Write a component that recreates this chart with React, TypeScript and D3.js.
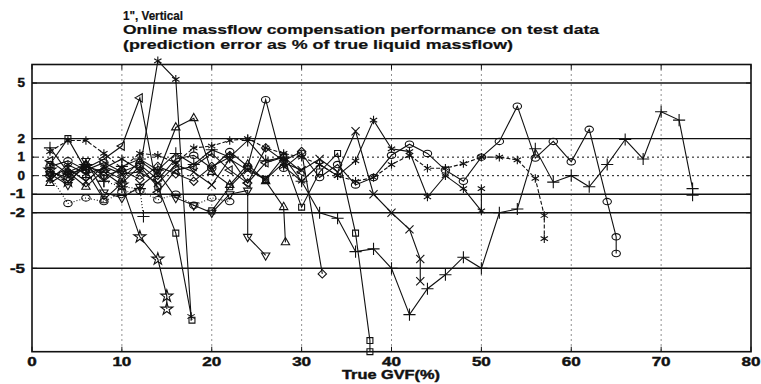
import * as d3 from "d3";

const gvfTicks = [0, 10, 20, 30, 40, 50, 60, 70, 80];
const errTicks = [5, 2, 1, 0, -1, -2, -5];
const solidRefs = [5, 2, -1, -2, -5];
const dottedRefs = [1, 0];

const titleLines = [
  '1", Vertical',
  "Online massflow compensation performance on test data",
  "(prediction error as % of true liquid massflow)",
];
// the scan is stretched sideways, so the title is fitted to its width
const titleWidths = [60, 476, 390];

// one pair of arrays per test series
const circleGvf = [2, 4, 6, 8, 10, 12, 14, 16, 18, 20, 22, 24, 26, 28, 30, 32, 34, 36, 38, 40, 42, 44, 46, 48, 50, 52, 54, 56, 58, 60, 62, 64, 65, 65];
const circleErr = [0.5, 0.8, 0.3, 0.7, 0.2, 0.6, -0.2, 0.9, 1.1, 0.4, 1.3, 0.5, 4.1, 0.4, 1.2, -0.1, 0.6, -0.5, -0.1, 1.1, 1.7, 1.2, 0.3, -0.3, 1.0, 1.85, 3.75, 0.95, 1.85, 0.75, 2.5, -1.4, -3.3, -4.2];

const plusGvf = [2, 4, 6, 8, 10, 12, 14, 16, 18, 20, 22, 24, 26, 28, 30, 32, 34, 36, 38, 40, 42, 44, 46, 48, 50, 52, 54, 56, 58, 60, 62, 64, 66, 68, 70, 72, 73.5, 73.5];
const plusErr = [1.5, 0.2, 0.6, -0.3, 0.5, 0.9, 0.3, 1.2, 0.6, 1.4, 1.0, 1.9, 0.8, 1.0, -0.3, -2.0, -2.3, -4.1, -3.95, -5.0, -7.5, -6.1, -5.35, -4.4, -5.0, -2.0, -1.8, 1.45, -0.35, 0.0, -0.6, 0.6, 1.95, 0.9, 3.45, 3.0, -0.7, -1.05];

const astDashGvf = [2, 4, 6, 8, 10, 12, 14, 16, 18, 20, 22, 24, 26, 28, 30, 32, 34, 36, 38, 40, 42, 44, 46, 48, 50, 52, 54, 56, 57, 57];
const astDashErr = [1.3, 1.9, 1.9, 1.2, 0.4, 1.2, 1.1, 0.7, 1.5, 1.6, 1.9, 2.0, 1.5, 1.2, 1.0, 0.6, 0.0, -0.3, -0.1, 0.6, 1.1, 0.4, 0.4, 0.65, 1.0, 1.0, 0.85, -0.15, -2.15, -3.4];

const pentaGvf = [2, 4, 6, 8, 10, 12, 14, 15, 15];
const pentaErr = [0.3, -0.3, 0.5, 0.2, -0.5, -3.3, -4.5, -6.5, -7.2];

const astPeakGvf = [2, 4, 6, 8, 10, 12, 14, 16, 17.7];
const astPeakErr = [-0.2, 0.6, 0.1, 0.4, 0.9, 0.3, 6.2, 5.2, -7.6];

const squareGvf = [2, 4, 6, 8, 10, 12, 14, 16, 17.8];
const squareErr = [0.6, 2.0, 0.3, -1.3, -0.4, 0.5, -0.6, -3.1, -7.8];

const triLeftGvf = [2, 4, 6, 8, 10, 12, 14, 16, 18, 20, 22, 24, 26, 28, 30];
const triLeftErr = [0.8, 0.1, 0.4, 0.9, 1.6, 4.2, -0.9, 0.3, 0.5, 1.2, 0.3, -0.4, 0.7, 1.0, 0.2];

const triDownGvf = [2, 4, 6, 8, 10, 12, 14, 16, 18, 20, 22, 24, 24, 26];
const triDownErr = [0.1, -0.5, 0.8, -0.9, -1.2, -0.6, 0.2, -1.2, -1.6, -2.0, -1.0, -0.8, -3.3, -4.3];

const triUpGvf = [2, 4, 6, 8, 10, 12, 14, 16, 18, 20, 22, 24, 26, 28, 28.2];
const triUpErr = [-0.4, 0.2, -0.6, 0.3, -0.2, 0.8, 0.1, 2.6, 3.1, 0.2, -0.5, 0.6, -0.3, -1.7, -3.6];

const diamondGvf = [2, 4, 6, 8, 10, 12, 14, 16, 18, 20, 22, 24, 26, 28, 30, 32.3];
const diamondErr = [0.2, -0.1, 0.6, 0.0, 0.3, -0.2, 0.5, 0.1, -0.3, 0.5, 1.0, -0.4, 1.5, 0.8, 1.3, -5.3];

const crossGvf = [2, 4, 6, 8, 10, 12, 14, 16, 18, 20, 22, 24, 26, 28, 30, 32, 34, 36, 38, 40, 42, 43.2, 43.2];
const crossErr = [-0.1, 0.4, -0.3, 0.5, 0.1, 0.2, -0.4, 0.6, 0.2, -0.5, 0.9, 0.3, -0.2, 0.7, 0.3, 0.9, 0.2, 2.4, -1.0, -2.0, -2.9, -4.5, -5.7];

const square2Gvf = [20, 22, 24, 26, 28, 30, 32, 34, 36, 37.6, 37.6];
const square2Err = [-1.9, -0.6, 0.4, -0.2, 1.0, -1.7, 0.2, 1.2, -3.1, -8.9, -9.5];

const ast2Gvf = [28, 30, 32, 34, 36, 38, 40, 42, 44, 46, 48, 50, 50];
const ast2Err = [0.5, -0.3, 0.6, 0.0, 0.8, 3.0, 1.45, 1.3, -1.15, 0.0, -0.7, -1.9, -0.7];

const circleDotGvf = [2, 4, 6, 8, 10, 12, 14, 16, 18, 20, 22];
const circleDotErr = [0.0, -1.5, -1.2, -1.4, -0.9, -0.8, -1.3, -1.0, -1.6, -1.2, -1.4];

const plusDotGvf = [2, 4, 6, 8, 10, 12, 12.4];
const plusDotErr = [0.0, 0.2, -0.1, -0.3, -0.6, -0.7, -2.2];

type Marker = "circle" | "plus" | "times" | "asterisk" | "star" | "square" | "diamond" | "up" | "down" | "left";

const series: { gvf: number[]; err: number[]; marker: Marker; dash: string }[] = [
  { gvf: circleGvf, err: circleErr, marker: "circle", dash: "" },
  { gvf: plusGvf, err: plusErr, marker: "plus", dash: "" },
  { gvf: astDashGvf, err: astDashErr, marker: "asterisk", dash: "4,2" },
  { gvf: pentaGvf, err: pentaErr, marker: "star", dash: "" },
  { gvf: astPeakGvf, err: astPeakErr, marker: "asterisk", dash: "" },
  { gvf: squareGvf, err: squareErr, marker: "square", dash: "" },
  { gvf: triLeftGvf, err: triLeftErr, marker: "left", dash: "" },
  { gvf: triDownGvf, err: triDownErr, marker: "down", dash: "" },
  { gvf: triUpGvf, err: triUpErr, marker: "up", dash: "" },
  { gvf: diamondGvf, err: diamondErr, marker: "diamond", dash: "" },
  { gvf: crossGvf, err: crossErr, marker: "times", dash: "" },
  { gvf: square2Gvf, err: square2Err, marker: "square", dash: "" },
  { gvf: ast2Gvf, err: ast2Err, marker: "asterisk", dash: "" },
  { gvf: circleDotGvf, err: circleDotErr, marker: "circle", dash: "1,2" },
  { gvf: plusDotGvf, err: plusDotErr, marker: "plus", dash: "1,2" },
];

const W = 761;
const H = 384;
const left = 32;
const right = 751;
const top = 64.5;
const bottom = 351.7;
const font = "'Liberation Sans', Arial, sans-serif";

function markerPath(m: Marker) {
  switch (m) {
    case "plus": return d3.symbol(d3.symbolPlus, 50)()!;
    case "times": return d3.symbol(d3.symbolTimes, 45)()!;
    case "asterisk": return d3.symbol(d3.symbolAsterisk, 50)()!;
    case "star": return d3.symbol(d3.symbolStar, 45)()!;
    case "square": return d3.symbol(d3.symbolSquare2, 45)()!;
    case "diamond": return d3.symbol(d3.symbolDiamond2, 45)()!;
    default: return d3.symbol(d3.symbolTriangle2, 50)()!;
  }
}

const rotation: Record<string, number> = { down: 180, left: -90 };

export default function App() {
  const x = d3.scaleLinear().domain([0, 80]).range([left, right]);
  const y = d3.scaleLinear().domain([-9.5, 6]).range([bottom, top]);
  const line = d3.line<[number, number]>().x((d) => x(d[0])).y((d) => y(d[1]));
  const tickText = { fontSize: 12, fontWeight: "bold", fill: "#111", stroke: "#111", strokeWidth: 0.4 } as const;

  return (
    <svg width={W} height={H} style={{ position: "absolute", left: 0, top: 0, background: "#fff" }} fontFamily={font}>
      <rect width={W} height={H} fill="#fff" />
      {titleLines.map((t, i) => (
        <text key={t} x={123} y={19.5 + i * 14.5} fontSize={12} fontWeight="bold" fill="#111"
          stroke="#111" strokeWidth={0.2}
          textLength={titleWidths[i]} lengthAdjust="spacingAndGlyphs">{t}</text>
      ))}

      {/* vertical dotted grid */}
      {gvfTicks.slice(1, -1).map((t) => (
        <line key={t} x1={x(t)} x2={x(t)} y1={top} y2={bottom} stroke="#222" strokeWidth={1} strokeDasharray="1,4" />
      ))}
      {/* reference error bands */}
      {solidRefs.map((t) => (
        <line key={t} x1={left} x2={right} y1={y(t)} y2={y(t)} stroke="#111" strokeWidth={1.4} />
      ))}
      {dottedRefs.map((t) => (
        <line key={t} x1={left} x2={right} y1={y(t)} y2={y(t)} stroke="#111" strokeWidth={1} strokeDasharray="2,3" />
      ))}

      {series.map((s, i) => {
        const pts = s.gvf.map((g, j) => [g, s.err[j]] as [number, number]);
        return (
          <g key={i}>
            <path d={line(pts)!} fill="none" stroke="#111" strokeWidth={1.1} strokeDasharray={s.dash || undefined} />
            {pts.map((p, j) =>
              s.marker === "circle" ? (
                <ellipse key={j} cx={x(p[0])} cy={y(p[1])} rx={4.2} ry={3.2} fill="none" stroke="#111" strokeWidth={1.1} />
              ) : (
                <path
                  key={j}
                  d={markerPath(s.marker)}
                  transform={`translate(${x(p[0])},${y(p[1])}) rotate(${rotation[s.marker] ?? 0})`}
                  fill="none"
                  stroke="#111"
                  strokeWidth={1.1}
                />
              )
            )}
          </g>
        );
      })}

      {/* frame */}
      <rect x={left} y={top} width={right - left} height={bottom - top} fill="none" stroke="#111" strokeWidth={1.6} />
      {gvfTicks.map((t) => (
        <g key={t}>
          <line x1={x(t)} x2={x(t)} y1={bottom} y2={bottom - 5} stroke="#111" />
          <line x1={x(t)} x2={x(t)} y1={top} y2={top + 5} stroke="#111" />
          <text x={x(t)} y={366} textAnchor="middle" {...tickText}
            textLength={String(t).length * 9.5} lengthAdjust="spacingAndGlyphs">{t}</text>
        </g>
      ))}
      {errTicks.map((t) => (
        <g key={t}>
          <line x1={left} x2={left + 5} y1={y(t)} y2={y(t)} stroke="#111" />
          <line x1={right} x2={right - 5} y1={y(t)} y2={y(t)} stroke="#111" />
          <text x={25} y={y(t)} dy="0.35em" textAnchor="end" {...tickText}
            textLength={String(t).length * 7.5} lengthAdjust="spacingAndGlyphs">{t}</text>
        </g>
      ))}
      <text x={391} y={379} textAnchor="middle" {...tickText} textLength={98} lengthAdjust="spacingAndGlyphs">True GVF(%)</text>
    </svg>
  );
}
